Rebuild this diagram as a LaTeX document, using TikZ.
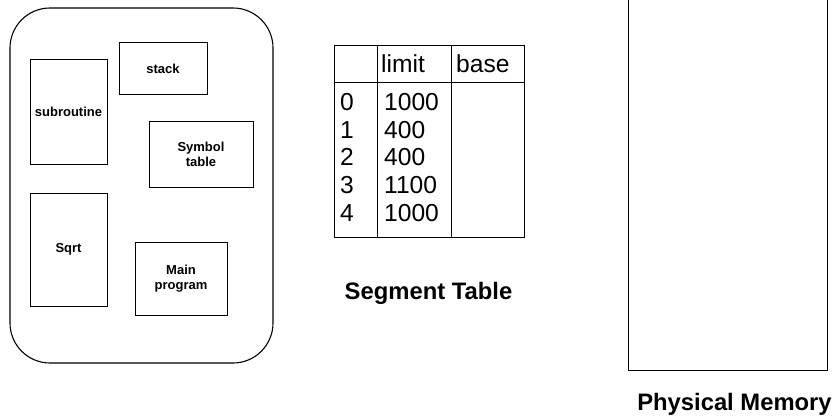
\documentclass[tikz,border=0pt]{standalone}
\usepackage{fontspec}
\setmainfont{Liberation Sans}
\begin{document}
\begin{tikzpicture}[x=1pt,y=-1pt,
  box/.style={draw,line width=1pt,minimum width=0pt,minimum height=0pt,inner sep=0pt,font=\bfseries\fontsize{13}{15}\selectfont,align=center},
  cell/.style={anchor=west,inner sep=0pt,font=\fontsize{24.6}{28}\selectfont},
  caption/.style={font=\bfseries\fontsize{23.8}{27}\selectfont,inner sep=0pt}]
\useasboundingbox (0,0) rectangle (835,417);
% logical address space
\draw[line width=1.1pt,rounded corners=40pt] (10,8) rectangle (273,363);
\node[box,minimum width=77pt,minimum height=104pt] (sub) at (68.5,112) {subroutine};
\node[box,minimum width=88pt,minimum height=52pt] (stk) at (163,69) {stack};
\node[box,minimum width=104pt,minimum height=65pt] (sym) at (201,154.5) {Symbol\\table};
\node[box,minimum width=77pt,minimum height=113pt] (sqrt) at (68.5,249.5) {Sqrt};
\node[box,minimum width=92pt,minimum height=73pt] (main) at (181,278.5) {Main\\program};
% segment table
\draw[line width=1pt] (334,46) rectangle (524,237);
\draw[line width=1pt] (377,46) -- (377,237) (451,46) -- (451,237) (334,83) -- (524,83);
\node[cell] (hl) at (381,64) {limit};
\node[cell] (hb) at (456,64) {base};
\foreach \i/\v [count=\k from 0] in {0/1000,1/400,2/400,3/1100,4/1000}{
  \node[cell] (s\k) at (340,{102+27.7*\k}) {\i};
  \node[cell] (l\k) at (384,{102+27.7*\k}) {\v};
}
\node[caption] (stcap) at (428.5,293) {Segment Table};
% physical memory
\draw[line width=1pt] (628,-5) rectangle (827,370);
\node[caption] (pmcap) at (734.5,404) {Physical Memory};
\end{tikzpicture}
\end{document}
